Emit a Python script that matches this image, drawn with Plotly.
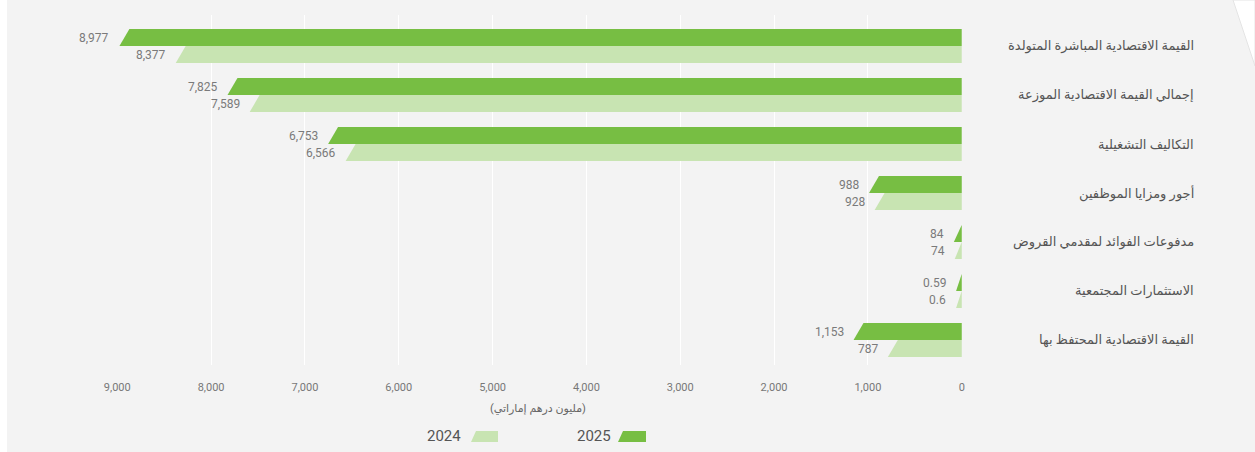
import plotly.graph_objects as go

categories = [
    "القيمة الاقتصادية المباشرة المتولدة",
    "إجمالي القيمة الاقتصادية الموزعة",
    "التكاليف التشغيلية",
    "أجور ومزايا الموظفين",
    "مدفوعات الفوائد لمقدمي القروض",
    "الاستثمارات المجتمعية",
    "القيمة الاقتصادية المحتفظ بها",
]
values_2025 = [8977, 7825, 6753, 988, 84, 0.59, 1153]
values_2024 = [8377, 7589, 6566, 928, 74, 0.6, 787]
labels_2025 = ["8,977", "7,825", "6,753", "988", "84", "0.59", "1,153"]
labels_2024 = ["8,377", "7,589", "6,566", "928", "74", "0.6", "787"]
series_names = ["2025", "2024"]
tick_vals = [0, 1000, 2000, 3000, 4000, 5000, 6000, 7000, 8000, 9000]
axis_title = "(مليون درهم إماراتي)"

DARK = "#77be43"
LIGHT = "#c8e4b2"
BG = "#f3f3f3"
FONT = "Roboto, DejaVu Sans, sans-serif"

W, H = 1255, 452
L, R, T, B = 117, 962, 15, 365
PW, PH = R - L, B - T


def px_x(px):
    return (px - L) / PW


def px_y(py):
    return (B - py) / PH


bar_h = 0.347      # thickness of one bar in category units
slant = 106        # horizontal slant of the bar's left end (data units)
min_vis = 60       # minimum visible length for tiny values

fig = go.Figure()


def bar_poly(v, y_top, y_bot):
    vb = max(v, min_vis)
    vt = max(vb - slant, 0)
    return [0, vt, vb, 0, 0], [y_top, y_top, y_bot, y_bot, y_top]


annotations = []
for i, (v25, v24) in enumerate(zip(values_2025, values_2024)):
    xs, ys = bar_poly(v25, i - bar_h, i)
    fig.add_trace(go.Scatter(x=xs, y=ys, mode="lines", fill="toself",
                             fillcolor=DARK, line=dict(width=0, color=DARK),
                             hoverinfo="skip", showlegend=False))
    xs, ys = bar_poly(v24, i, i + bar_h)
    fig.add_trace(go.Scatter(x=xs, y=ys, mode="lines", fill="toself",
                             fillcolor=LIGHT, line=dict(width=0, color=LIGHT),
                             hoverinfo="skip", showlegend=False))
    annotations.append(dict(x=max(v25, min_vis), y=i - bar_h / 2, xref="x", yref="y",
                            text=labels_2025[i], showarrow=False, xanchor="right",
                            yanchor="middle", xshift=-8,
                            font=dict(size=12, color="#7a7a7a", family=FONT)))
    annotations.append(dict(x=max(v24, min_vis), y=i + bar_h / 2, xref="x", yref="y",
                            text=labels_2024[i], showarrow=False, xanchor="right",
                            yanchor="middle", xshift=-8,
                            font=dict(size=12, color="#7a7a7a", family=FONT)))
    annotations.append(dict(x=px_x(1196), y=i, xref="paper", yref="y",
                            text=categories[i], showarrow=False, xanchor="right",
                            yanchor="middle",
                            font=dict(size=13, color="#555555", family=FONT)))

annotations.append(dict(x=px_x(538), y=px_y(408), xref="paper", yref="paper",
                        text=axis_title, showarrow=False, xanchor="center",
                        yanchor="middle",
                        font=dict(size=11, color="#666666", family=FONT)))

# custom legend (text left of swatch)
legend_items = [(series_names[0], DARK, 613, 618, 646),
                (series_names[1], LIGHT, 463, 471, 498)]
shapes = []
for name, col, txt_r, sw_l, sw_r in legend_items:
    annotations.append(dict(x=px_x(txt_r), y=px_y(436), xref="paper", yref="paper",
                            text=name, showarrow=False, xanchor="right",
                            yanchor="middle",
                            font=dict(size=15, color="#555555", family=FONT)))
    path = "M {} {} L {} {} L {} {} L {} {} Z".format(
        px_x(sw_l), px_y(442), px_x(sw_l + 5), px_y(431),
        px_x(sw_r), px_y(431), px_x(sw_r), px_y(442))
    shapes.append(dict(type="path", path=path, xref="paper", yref="paper",
                       fillcolor=col, line=dict(width=0), layer="above"))

# page decorations (white left strip and cut corner)
shapes.append(dict(type="rect", xref="paper", yref="paper",
                   x0=px_x(0), x1=px_x(7), y0=px_y(H), y1=px_y(0),
                   fillcolor="white", line=dict(width=0), layer="below"))
shapes.append(dict(type="path", xref="paper", yref="paper",
                   path="M {} {} L {} {} L {} {} Z".format(
                       px_x(1233), px_y(0), px_x(W), px_y(0), px_x(W), px_y(66)),
                   fillcolor="white", line=dict(color="#e4e4e4", width=1),
                   layer="below"))

fig.update_layout(
    width=W, height=H,
    margin=dict(l=L, r=W - R, t=T, b=H - B, pad=0),
    paper_bgcolor=BG, plot_bgcolor=BG,
    showlegend=False,
    font=dict(family=FONT),
    annotations=annotations,
    shapes=shapes,
    xaxis=dict(range=[9003, -3], tickvals=tick_vals, tickformat=",",
               showgrid=True, gridcolor="white", gridwidth=1,
               zeroline=False, showline=False, ticks="",
               ticklabelstandoff=14,
               tickfont=dict(size=11, color="#777777", family=FONT)),
    yaxis=dict(range=[6.51, -0.633], showgrid=False, zeroline=False,
               showticklabels=False, showline=False, ticks=""),
)

fig.write_html(
    "out.html",
    config={"displayModeBar": False},
    post_script="document.body.style.margin='0';"
                "document.body.style.overflow='hidden';"
                "document.body.style.background='#f3f3f3';",
)
